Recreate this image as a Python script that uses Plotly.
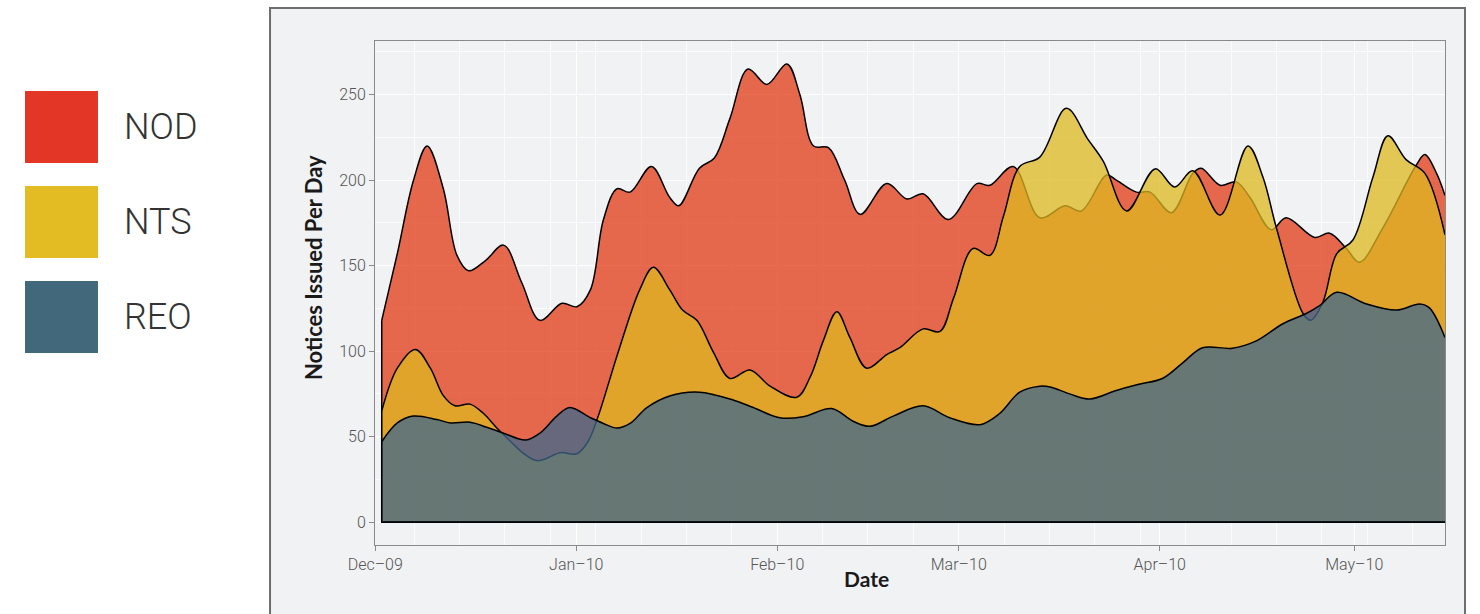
import pandas as pd
import plotly.graph_objects as go

start_date = "2009-12-01"
series_names = ["NOD", "NTS", "REO"]
legend_colors = ["#E33626", "#E2BC22", "#41687B"]
fill_colors = ["rgba(224,58,22,0.75)", "rgba(222,184,32,0.75)", "rgba(62,104,142,0.75)"]
x_title = "Date"
y_title = "Notices Issued Per Day"

# day offsets from start_date and values
nod_day = [1.0, 3.4, 5.9, 8.0, 10.5, 12.6, 14.4, 17.0, 19.8, 22.6, 25.4, 28.8, 31.1, 33.2, 35.2,
           37.3, 39.3, 42.6, 45.4, 46.8, 50.0, 52.3, 54.7, 57.5, 60.4, 63.5, 65.5, 67.6, 69.9,
           72.4, 74.8, 78.9, 82.0, 84.5, 88.4, 92.8, 94.8, 98.4, 102.5, 106.4, 108.9, 112.8,
           114.3, 117.4, 119.5, 122.8, 126.1, 127.4, 130.3, 132.8, 134.9, 138.2, 140.5, 144.9,
           147.2, 149.8, 151.8, 155.4, 160.6, 161.9, 163.7, 165.0]
nod_val = [118, 157, 200, 220, 195, 156, 147, 153, 162, 140, 118, 128, 126, 136, 177,
           195, 193, 208, 190, 185, 207, 213, 236, 265, 256, 268, 250, 220, 219,
           200, 180, 198, 189, 192, 177, 198, 197, 208, 178, 185, 182, 203,
           200, 193, 193, 181, 204, 207, 197, 199, 190, 171, 178, 166.5,
           169, 160, 152, 172, 209, 215, 204, 191]

nts_day = [1.0, 3.4, 6.2, 8.5, 10.5, 12.3, 14.6, 16.7, 19.3, 24.9, 28.5, 31.1, 32.8, 34.3,
           37.6, 40.8, 42.9, 45.4, 47.4, 49.6, 52.2, 54.7, 57.8, 60.9, 65.0, 67.1, 69.1, 71.2,
           73.2, 75.8, 78.9, 80.9, 84.5, 87.1, 89.2, 92.2, 94.8, 96.9, 99.4, 102.5, 106.6,
           109.9, 112.3, 115.9, 120.3, 123.3, 126.1, 130.3, 134.6, 136.9, 139.0, 143.1, 144.3,
           146.2, 148.3, 150.8, 153.9, 156.2, 159.0, 161.9, 165.0]
nts_val = [65, 90, 101, 90, 74, 68, 69, 63.5, 53, 36, 40.6, 40, 47, 61,
           101, 136, 149, 136, 124, 118, 99, 84, 89, 79.5, 73, 85, 106, 123,
           108, 90, 98, 102, 113, 111.5, 131, 160, 156, 179, 208, 213.5, 242,
           224, 211, 182, 206.6, 196, 205.5, 179.6, 220, 202, 172, 122, 118,
           129, 157, 165, 202, 226, 212, 204, 168]

reo_day = [1.0, 3.4, 5.9, 9.5, 11.6, 14.6, 17.2, 19.8, 23.2, 25.4, 28.0, 30.0, 33.2, 35.2,
           37.3, 39.3, 41.9, 45.4, 50.0, 55.2, 58.3, 62.4, 66.0, 70.4, 73.7, 76.3, 79.9, 84.5,
           88.6, 93.3, 96.3, 99.4, 102.5, 104.1, 107.1, 110.2, 114.3, 117.8, 121.4, 124.5,
           127.6, 132.2, 135.9, 140.0, 143.6, 145.6, 148.3, 152.9, 157.5, 161.1, 162.6, 165.0]
reo_val = [47, 58, 62, 60, 58, 58.4, 55.5, 52, 48, 52, 62, 67, 61, 57.7,
           55, 57.7, 67, 73.8, 76, 71.4, 67, 61, 61.6, 66.4, 59, 56, 62, 68,
           61, 57, 63.5, 76, 79.5, 79, 75, 72, 77, 80.6, 84, 93,
           102, 101.7, 106, 116, 122, 126.4, 134.4, 127.6, 124, 127.6, 125.3, 108]

x_range_days = [-0.04, 165.0]
y_range = [-13.4, 281.4]
y_major = 50
y_minor = 25

t0 = pd.Timestamp(start_date)


def to_dates(days):
    return [t0 + pd.Timedelta(days=d) for d in days]


fig = go.Figure()
for name, days, vals, fc in zip(series_names, [nod_day, nts_day, reo_day],
                                [nod_val, nts_val, reo_val], fill_colors):
    dates = to_dates(days)
    fig.add_trace(go.Scatter(x=dates, y=vals, name=name, mode="lines", fill="tozeroy",
                             fillcolor=fc, line=dict(color="black", width=1.5, shape="spline",
                                                     smoothing=1.0),
                             showlegend=False))
    # polygon edges (left side and baseline)
    fig.add_trace(go.Scatter(x=[dates[0], dates[0], dates[-1]], y=[vals[0], 0, 0],
                             mode="lines", line=dict(color="black", width=1.5),
                             showlegend=False, hoverinfo="skip"))

grid_c = "rgba(255,255,255,0.95)"
tick_font = dict(family="Roboto Light, Roboto", size=16, color="#555555", weight=300)
title_font = dict(family="Lato", size=21, color="#1a1a1a", weight="bold")
fig.update_xaxes(
    range=to_dates(x_range_days), type="date",
    dtick="M1", tick0=start_date, tickformat="%b\u2013%y",
    ticks="outside", ticklen=5, tickcolor="#8a8a8a",
    showgrid=True, gridcolor=grid_c, gridwidth=1.3,
    minor=dict(dtick=7 * 86400000, tick0="2009-12-07", showgrid=True,
               gridcolor="rgba(255,255,255,0.75)", gridwidth=1),
    showline=True, linecolor="#8a8a8a", linewidth=1, mirror=True,
    zeroline=False,
    tickfont=tick_font,
)
fig.update_yaxes(
    range=y_range, dtick=y_major, tick0=0,
    ticks="outside", ticklen=5, tickcolor="#8a8a8a",
    showgrid=True, gridcolor=grid_c, gridwidth=1.3,
    minor=dict(dtick=y_minor, showgrid=True, gridcolor="rgba(255,255,255,0.75)", gridwidth=1),
    showline=True, linecolor="#8a8a8a", linewidth=1, mirror=True,
    zeroline=False,
    tickfont=tick_font,
)

# outer grey frame around the chart
shapes = [dict(type="rect", xref="paper", yref="paper", x0=-0.0981, x1=1.0187, y0=-0.3, y1=1.0655,
               line=dict(color="#6e6e6e", width=2), fillcolor="#F1F2F4", layer="below")]
annotations = [
    dict(xref="paper", yref="paper", x=0.4593, y=-0.0655, xanchor="center", yanchor="middle",
         showarrow=False, text=x_title, font=title_font),
    dict(xref="paper", yref="paper", x=-0.0579, y=0.5496, xanchor="center", yanchor="middle",
         showarrow=False, text=y_title, textangle=-90,
         font=dict(family="Lato", size=22, color="#1a1a1a", weight="bold")),
]
legend_y = [(0.9008, 0.7579), (0.7123, 0.5694), (0.5238, 0.3810)]
for name, col, (ya, yb) in zip(series_names, legend_colors, legend_y):
    shapes.append(dict(type="rect", xref="paper", yref="paper", x0=-0.3271, x1=-0.2589,
                       y0=yb, y1=ya, line=dict(width=0), fillcolor=col))
    annotations.append(dict(xref="paper", yref="paper", x=-0.2364, y=(ya + yb) / 2,
                            xanchor="left", yanchor="middle", showarrow=False, text=name,
                            font=dict(family="Roboto Light, Roboto", size=36, color="#333333",
                                      weight=300)))

fig.update_layout(
    width=1480, height=614, autosize=False,
    margin=dict(l=375, r=35, t=41, b=69),
    paper_bgcolor="white", plot_bgcolor="#F1F2F4",
    shapes=shapes, annotations=annotations,
    showlegend=False,
)
fig.write_html("out.html", config={"displayModeBar": False},
               post_script="document.body.style.margin='0';"
                           "document.body.style.overflow='hidden';")
